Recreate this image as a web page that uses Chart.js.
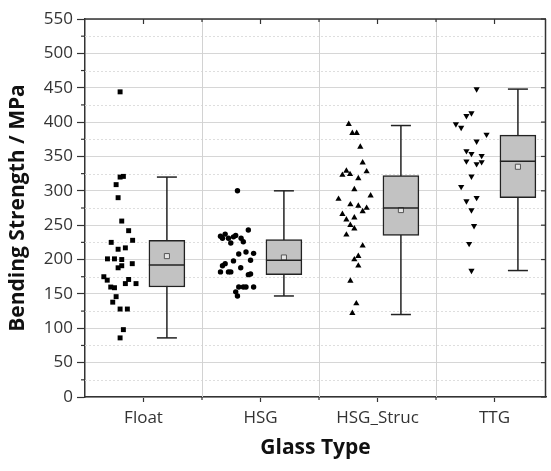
<!DOCTYPE html>
<html>
<head>
<meta charset="utf-8">
<script src="https://cdn.jsdelivr.net/npm/chart.js@4.4.1/dist/chart.umd.min.js"></script>
<style>
  html, body { margin: 0; padding: 0; background: #fff; }
  #wrap { width: 551px; height: 471px; }
</style>
</head>
<body>
<div id="wrap"><canvas id="boxChart"></canvas></div>
<script>
const glassTypes = ['Float', 'HSG', 'HSG_Struc', 'TTG'];
const yMajorTicks = [0, 50, 100, 150, 200, 250, 300, 350, 400, 450, 500, 550];
const yMinorTicks = [25, 75, 125, 175, 225, 275, 325, 375, 425, 475, 525];

// single test results (MPa) and their horizontal scatter offset from the category
const floatValues = [444, 320, 321, 309, 290, 256, 242, 225, 228, 215, 217, 201, 201, 200, 188, 191, 194, 175, 170, 160, 159, 165, 171, 165, 146, 138, 128, 128, 98, 86];
const floatJitter = [-0.20, -0.20, -0.172, -0.234, -0.217, -0.186, -0.127, -0.276, -0.093, -0.217, -0.155, -0.308, -0.248, -0.186, -0.217, -0.186, -0.096, -0.339, -0.31, -0.28, -0.248, -0.155, -0.127, -0.064, -0.234, -0.263, -0.20, -0.138, -0.172, -0.20];

const hsgValues = [300, 243, 234, 237, 231, 231, 224, 233, 235, 231, 226, 211, 208, 209, 199, 198, 194, 191, 188, 182, 182, 182, 178, 179, 160, 160, 160, 160, 153, 147];
const hsgJitter = [-0.197, -0.104, -0.342, -0.302, -0.325, -0.274, -0.254, -0.231, -0.212, -0.166, -0.147, -0.124, -0.186, -0.059, -0.085, -0.231, -0.302, -0.325, -0.169, -0.342, -0.274, -0.254, -0.104, -0.085, -0.186, -0.147, -0.124, -0.059, -0.212, -0.197];

const strucValues = [397, 384, 384, 364, 341, 328, 323, 329, 324, 318, 302, 293, 288, 280, 278, 275, 270, 266, 261, 258, 250, 245, 236, 220, 205, 200, 191, 169, 136, 122];
const strucJitter = [-0.246, -0.215, -0.178, -0.147, -0.127, -0.093, -0.30, -0.266, -0.235, -0.164, -0.198, -0.059, -0.333, -0.232, -0.164, -0.093, -0.127, -0.30, -0.198, -0.266, -0.232, -0.198, -0.266, -0.127, -0.164, -0.198, -0.164, -0.232, -0.181, -0.215];

const ttgValues = [448, 413, 409, 397, 392, 382, 372, 358, 354, 351, 343, 339, 342, 321, 306, 290, 285, 272, 249, 223, 184];
const ttgJitter = [-0.153, -0.197, -0.24, -0.33, -0.285, -0.068, -0.153, -0.24, -0.197, -0.11, -0.24, -0.153, -0.11, -0.197, -0.285, -0.153, -0.24, -0.197, -0.175, -0.217, -0.197];

// box statistics per glass type
const boxQ1 = [160, 178, 235, 290];
const boxQ3 = [228, 229, 322, 381];
const boxMedian = [192, 199, 275, 343];
const boxMean = [205, 203, 272, 335];
const whiskerLow = [86, 147, 120, 184];
const whiskerHigh = [320, 300, 395, 448];

const boxOffset = 0.2;
const boxWidth = 36;
const capHalf = 10;
const fontFamily = '"Open Sans", "DejaVu Sans", sans-serif';

function scatterPoints(values, jitter, cat) {
    return values.map((v, k) => ({ x: cat + jitter[k], y: v }));
}

function hline(ctx, x1, x2, y) {
    ctx.beginPath(); ctx.moveTo(x1, y); ctx.lineTo(x2, y); ctx.stroke();
}
function vline(ctx, x, y1, y2) {
    ctx.beginPath(); ctx.moveTo(x, y1); ctx.lineTo(x, y2); ctx.stroke();
}

const boxPlotPlugin = {
    id: 'boxPlotPlugin',
    beforeDatasetsDraw(chart) {
        const { ctx, chartArea: a, scales: { x, y } } = chart;
        ctx.save();
        // dotted minor grid
        ctx.strokeStyle = '#dedede';
        ctx.lineWidth = 1;
        ctx.setLineDash([2, 2]);
        yMinorTicks.forEach(v => hline(ctx, a.left, a.right, Math.round(y.getPixelForValue(v)) + 0.5));
        ctx.setLineDash([]);
        // separators between glass types
        ctx.strokeStyle = '#d2d2d2';
        for (let i = 1; i < glassTypes.length; i++) {
            vline(ctx, Math.round(x.getPixelForValue(i + 0.5)) + 0.5, a.top, a.bottom);
        }
        // whiskers
        ctx.strokeStyle = '#222';
        ctx.lineWidth = 1.5;
        glassTypes.forEach((_, i) => {
            const cx = x.getPixelForValue(i + 1 + boxOffset);
            const lo = y.getPixelForValue(whiskerLow[i]);
            const hi = y.getPixelForValue(whiskerHigh[i]);
            vline(ctx, cx, lo, hi);
            hline(ctx, cx - capHalf, cx + capHalf, lo);
            hline(ctx, cx - capHalf, cx + capHalf, hi);
        });
        ctx.restore();
    },
    afterDatasetsDraw(chart) {
        const { ctx, chartArea: a, scales: { x, y } } = chart;
        ctx.save();
        ctx.strokeStyle = '#222';
        ctx.lineWidth = 1.5;
        glassTypes.forEach((_, i) => {
            const cx = x.getPixelForValue(i + 1 + boxOffset);
            hline(ctx, cx - boxWidth / 2, cx + boxWidth / 2, y.getPixelForValue(boxMedian[i]));
        });
        // frame: top and right, ticks
        ctx.strokeStyle = '#333';
        hline(ctx, a.left, a.right, a.top);
        vline(ctx, a.right - 0.5, a.top, a.bottom);
        ctx.lineWidth = 1.2;
        glassTypes.forEach((_, i) => {
            const px = x.getPixelForValue(i + 1);
            vline(ctx, px, a.top, a.top + 5);
        });
        for (let i = 1; i < glassTypes.length; i++) {
            const px = x.getPixelForValue(i + 0.5);
            vline(ctx, px, a.bottom, a.bottom + 3);
            vline(ctx, px, a.top, a.top + 3);
        }
        yMinorTicks.forEach(v => {
            const py = y.getPixelForValue(v);
            hline(ctx, a.left - 4, a.left, py);
        });
        yMajorTicks.forEach(v => {
            const py = y.getPixelForValue(v);
            hline(ctx, a.right - 5, a.right, py);
        });
        ctx.restore();
    }
};

const markerStyle = { pointBackgroundColor: '#000', pointBorderColor: '#000', pointBorderWidth: 0, order: 1 };

new Chart(document.getElementById('boxChart'), {
    type: 'scatter',
    data: {
        datasets: [
            {
                type: 'bar',
                data: glassTypes.map((_, i) => ({ x: i + 1 + boxOffset, y: [boxQ1[i], boxQ3[i]] })),
                backgroundColor: '#c2c2c2',
                borderColor: '#222',
                borderWidth: 1.5,
                borderSkipped: false,
                barThickness: boxWidth,
                grouped: false,
                order: 3
            },
            Object.assign({ data: scatterPoints(floatValues, floatJitter, 1), pointStyle: 'rect', pointRadius: 3.5 }, markerStyle),
            Object.assign({ data: scatterPoints(hsgValues, hsgJitter, 2), pointStyle: 'circle', pointRadius: 2.7 }, markerStyle),
            Object.assign({ data: scatterPoints(strucValues, strucJitter, 3), pointStyle: 'triangle', pointRadius: 3.6 }, markerStyle),
            Object.assign({ data: scatterPoints(ttgValues, ttgJitter, 4), pointStyle: 'triangle', pointRadius: 3.6, rotation: 180 }, markerStyle),
            {
                data: glassTypes.map((_, i) => ({ x: i + 1 + boxOffset, y: boxMean[i] })),
                pointStyle: 'rect',
                pointRadius: 3.6,
                pointBackgroundColor: '#e6e6e6',
                pointBorderColor: '#555',
                pointBorderWidth: 1,
                order: 0
            }
        ]
    },
    options: {
        responsive: true,
        maintainAspectRatio: false,
        animation: false,
        events: [],
        layout: { padding: { top: 19, right: 1, left: 0, bottom: 0 } },
        plugins: { legend: { display: false }, tooltip: { enabled: false } },
        scales: {
            x: {
                type: 'linear',
                min: 0.5,
                max: 4.44,
                offset: false,
                afterBuildTicks: s => { s.ticks = glassTypes.map((_, i) => ({ value: i + 1 })); },
                afterFit: s => { s.height = 74; },
                ticks: {
                    callback: v => glassTypes[v - 1],
                    font: { family: fontFamily, size: 17 },
                    color: '#333',
                    padding: 6,
                    maxRotation: 0,
                    autoSkip: false
                },
                grid: { offset: false, drawOnChartArea: false, tickLength: 5, tickColor: '#333', tickWidth: 1.2 },
                border: { color: '#333', width: 1.5 },
                title: {
                    display: true,
                    text: 'Glass Type',
                    font: { family: fontFamily, size: 21, weight: 'bold' },
                    color: '#111',
                    padding: { top: 0, bottom: 10 }
                }
            },
            y: {
                min: 0,
                max: 550,
                afterBuildTicks: s => { s.ticks = yMajorTicks.map(v => ({ value: v })); },
                afterFit: s => { s.width = 85; },
                ticks: {
                    font: { family: fontFamily, size: 17 },
                    color: '#333',
                    padding: 4
                },
                grid: { color: '#d6d6d6', lineWidth: 1, tickLength: 8, tickColor: '#333', tickWidth: 1.2 },
                border: { color: '#333', width: 1.5 },
                title: {
                    display: true,
                    text: 'Bending Strength / MPa',
                    font: { family: fontFamily, size: 21, weight: 'bold' },
                    color: '#111',
                    padding: { top: 5, bottom: 0 }
                }
            }
        }
    },
    plugins: [boxPlotPlugin]
});
</script>
</body>
</html>
